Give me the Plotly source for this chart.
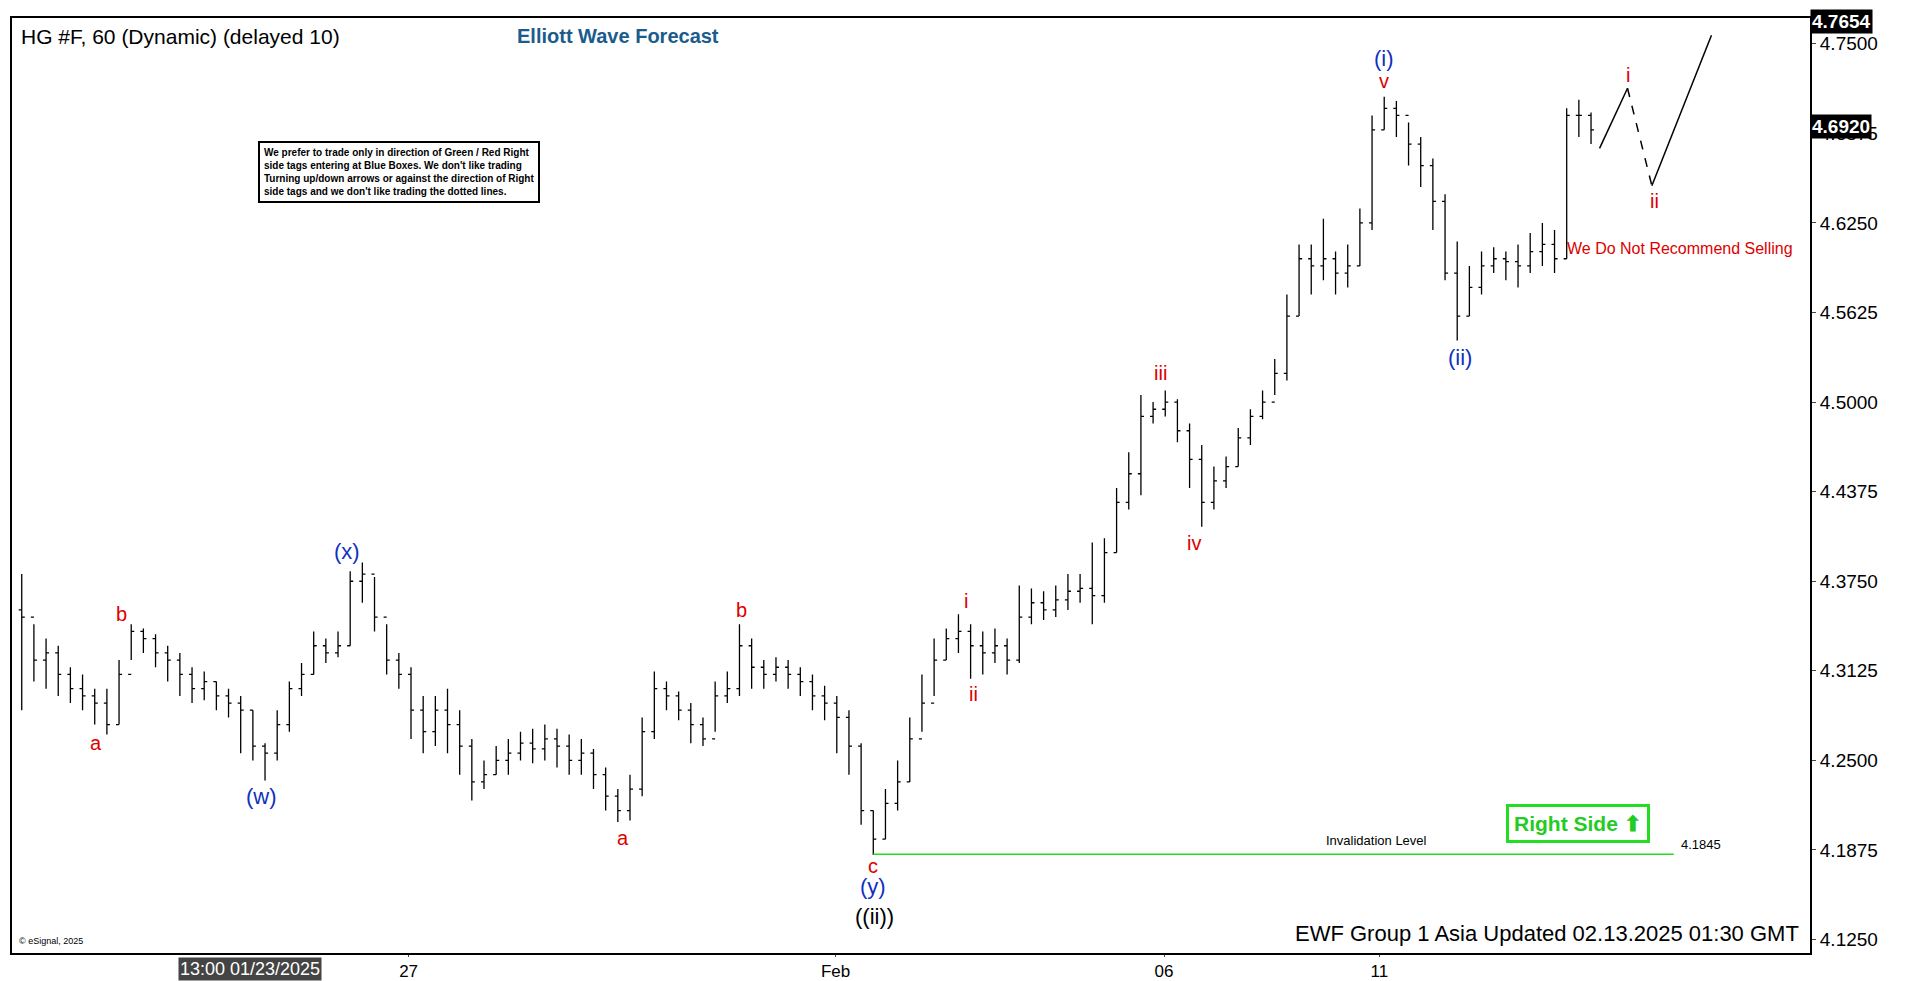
import plotly.graph_objects as go

close = [4.350,4.320,4.325,4.310,4.300,4.295,4.290,4.275,4.310,4.340,
 4.335,4.325,4.320,4.310,4.300,4.305,4.295,4.290,4.285,4.260,
 4.255,4.275,4.300,4.310,4.330,4.325,4.330,4.375,4.380,4.350,
 4.320,4.310,4.285,4.270,4.285,4.275,4.260,4.235,4.240,4.250,
 4.255,4.262,4.258,4.265,4.260,4.250,4.255,4.240,4.225,4.215,
 4.230,4.270,4.300,4.295,4.285,4.275,4.265,4.295,4.300,4.330,
 4.315,4.310,4.315,4.310,4.305,4.295,4.290,4.280,4.260,4.215,
 4.195,4.220,4.235,4.265,4.290,4.320,4.335,4.340,4.330,4.325,
 4.330,4.320,4.350,4.360,4.355,4.362,4.368,4.370,4.365,4.395,
 4.430,4.450,4.490,4.495,4.500,4.480,4.460,4.430,4.445,4.455,
 4.475,4.490,4.500,4.520,4.560,4.600,4.595,4.600,4.590,4.595,
 4.625,4.690,4.705,4.700,4.680,4.665,4.640,4.590,4.560,4.580,
 4.595,4.600,4.598,4.595,4.605,4.610,4.600,4.700,4.700,4.690]
high = [4.380,4.345,4.335,4.330,4.315,4.310,4.300,4.300,4.320,4.345,
 4.342,4.338,4.330,4.325,4.315,4.312,4.305,4.300,4.295,4.285,
 4.262,4.285,4.305,4.318,4.340,4.335,4.340,4.382,4.388,4.378,
 4.345,4.325,4.315,4.295,4.295,4.300,4.285,4.265,4.250,4.260,
 4.265,4.270,4.272,4.275,4.272,4.268,4.265,4.258,4.245,4.230,
 4.240,4.280,4.312,4.305,4.298,4.290,4.280,4.305,4.312,4.345,
 4.335,4.320,4.322,4.320,4.315,4.310,4.302,4.295,4.285,4.262,
 4.215,4.230,4.250,4.280,4.310,4.335,4.342,4.352,4.345,4.340,
 4.342,4.335,4.372,4.370,4.368,4.372,4.380,4.380,4.402,4.405,
 4.440,4.465,4.505,4.500,4.508,4.502,4.485,4.470,4.455,4.462,
 4.482,4.495,4.508,4.530,4.575,4.610,4.610,4.628,4.605,4.610,
 4.635,4.700,4.713,4.710,4.695,4.685,4.670,4.645,4.612,4.595,
 4.605,4.608,4.605,4.610,4.618,4.625,4.620,4.705,4.711,4.702]
low = [4.285,4.305,4.300,4.295,4.290,4.285,4.275,4.268,4.275,4.320,
 4.325,4.315,4.305,4.295,4.290,4.292,4.285,4.280,4.255,4.250,
 4.236,4.250,4.270,4.295,4.310,4.318,4.322,4.330,4.360,4.340,
 4.310,4.300,4.265,4.255,4.260,4.255,4.240,4.222,4.230,4.240,
 4.240,4.250,4.248,4.250,4.245,4.240,4.240,4.230,4.215,4.207,
 4.208,4.225,4.265,4.285,4.278,4.262,4.260,4.270,4.290,4.295,
 4.300,4.300,4.305,4.300,4.295,4.285,4.278,4.255,4.240,4.205,
 4.184,4.195,4.215,4.235,4.270,4.295,4.320,4.325,4.307,4.310,
 4.318,4.310,4.318,4.345,4.348,4.350,4.355,4.360,4.345,4.360,
 4.395,4.425,4.435,4.485,4.490,4.472,4.440,4.413,4.425,4.440,
 4.455,4.470,4.488,4.505,4.515,4.560,4.575,4.585,4.575,4.580,
 4.595,4.620,4.690,4.685,4.665,4.650,4.620,4.585,4.543,4.560,
 4.575,4.590,4.585,4.580,4.590,4.595,4.590,4.600,4.685,4.680]
openp = [4.355] + close[:-1]
idx = list(range(len(close)))

tick_pos = [31.8, 66.9, 93.9, 111.6]
tick_text = ["27", "Feb", "06", "11"]
y_ticks = [4.125, 4.1875, 4.25, 4.3125, 4.375, 4.4375, 4.5, 4.5625, 4.625, 4.6875, 4.75]

proj_x = [129.7, 132.0, 134.0, 138.9]
proj_y = [4.677, 4.719, 4.651, 4.756]
invalid = 4.1845

labels = [  # x, y, text, color, size
 (6.1, 4.262, "a", "#dd0000", 20), (8.2, 4.352, "b", "#dd0000", 20),
 (19.7, 4.225, "(w)", "#1030c0", 22), (26.7, 4.396, "(x)", "#1030c0", 22),
 (49.4, 4.196, "a", "#dd0000", 20), (59.2, 4.355, "b", "#dd0000", 20),
 (70.0, 4.176, "c", "#dd0000", 20), (70.0, 4.162, "(y)", "#1030c0", 22),
 (70.1, 4.141, "((ii))", "black", 22),
 (77.6, 4.361, "i", "#dd0000", 20), (78.2, 4.296, "ii", "#dd0000", 20),
 (93.6, 4.520, "iii", "#dd0000", 20), (96.4, 4.402, "iv", "#dd0000", 20),
 (112.0, 4.740, "(i)", "#1030c0", 22), (112.0, 4.724, "v", "#dd0000", 20),
 (118.2, 4.531, "(ii)", "#1030c0", 22),
 (132.0, 4.728, "i", "#dd0000", 20), (134.2, 4.640, "ii", "#dd0000", 20),
]

fig = go.Figure()
fig.add_trace(go.Ohlc(x=idx, open=openp, high=high, low=low, close=close,
    increasing=dict(line=dict(color="black", width=1.3)),
    decreasing=dict(line=dict(color="black", width=1.3)),
    tickwidth=0.25, hoverinfo="skip"))
fig.add_trace(go.Scatter(x=proj_x[:2], y=proj_y[:2], mode="lines", line=dict(color="black", width=1.5)))
fig.add_trace(go.Scatter(x=proj_x[1:3], y=proj_y[1:3], mode="lines", line=dict(color="black", width=1.5, dash="dash")))
fig.add_trace(go.Scatter(x=proj_x[2:], y=proj_y[2:], mode="lines", line=dict(color="black", width=1.5)))
fig.add_trace(go.Scatter(x=[70, 135.8], y=[invalid, invalid], mode="lines", line=dict(color="#22dd22", width=1.5)))

ann = []
for x, y, t, c, s in labels:
    ann.append(dict(x=x, y=y, text=t, xref="x", yref="y", showarrow=False, font=dict(color=c, size=s, family="Arial")))
ann += [
 dict(x=136.3, y=4.607, text="We Do Not Recommend Selling", showarrow=False, font=dict(color="#dd0000", size=16, family="Arial")),
 dict(x=111.4, y=4.194, text="Invalidation Level", showarrow=False, font=dict(color="black", size=13, family="Arial")),
 dict(x=138.0, y=4.1915, text="4.1845", showarrow=False, font=dict(color="black", size=13, family="Arial")),
 dict(x=127.9, y=4.206, text="<b>Right Side ⬆</b>", showarrow=False, bordercolor="#22dd22", borderwidth=3,
      borderpad=5, bgcolor="white", font=dict(color="#22cc22", size=21, family="Arial")),
 dict(xref="paper", yref="paper", x=0.004, y=0.995, xanchor="left", yanchor="top", text="HG #F, 60 (Dynamic) (delayed 10)",
      showarrow=False, font=dict(size=21, color="black", family="Arial")),
 dict(xref="paper", yref="paper", x=0.28, y=0.995, xanchor="left", yanchor="top", text="<b>Elliott Wave Forecast</b>",
      showarrow=False, font=dict(size=20, color="#1a5c8c", family="Arial")),
 dict(xref="paper", yref="paper", x=0.137, y=0.868, xanchor="left", yanchor="top",
      text="<b>We prefer to trade only in direction of Green / Red Right<br>side tags entering at Blue Boxes. We don't like trading<br>Turning up/down arrows or against the direction of Right<br>side tags and we don't like trading the dotted lines.</b>",
      align="left", showarrow=False, bordercolor="black", borderwidth=2, borderpad=4, bgcolor="white",
      font=dict(size=10, color="black", family="Arial")),
 dict(xref="paper", yref="paper", x=0.995, y=0.005, xanchor="right", yanchor="bottom",
      text="EWF Group 1 Asia Updated 02.13.2025 01:30 GMT", showarrow=False, font=dict(size=22, color="black", family="Arial")),
 dict(xref="paper", yref="paper", x=0.003, y=0.005, xanchor="left", yanchor="bottom", text="© eSignal, 2025",
      showarrow=False, font=dict(size=9, color="black", family="Arial")),
 dict(xref="paper", yref="y", x=1.0, y=4.7654, xanchor="left", text="<b>4.7654</b>", showarrow=False,
      bgcolor="black", font=dict(size=19, color="white", family="Arial")),
 dict(xref="paper", yref="y", x=1.0, y=4.692, xanchor="left", text="<b>4.6920</b>", showarrow=False,
      bgcolor="black", font=dict(size=19, color="white", family="Arial")),
 dict(xref="x", yref="paper", x=18.8, y=-0.004, yanchor="top", text="13:00 01/23/2025", showarrow=False,
      bgcolor="#444444", font=dict(size=18, color="white", family="Arial")),
]

fig.update_layout(width=1912, height=981, paper_bgcolor="white", plot_bgcolor="white",
    margin=dict(l=2, r=110, t=10, b=36), showlegend=False, annotations=ann,
    xaxis=dict(range=[-0.8, 147], tickvals=tick_pos, ticktext=tick_text, showgrid=False, zeroline=False,
               rangeslider=dict(visible=False), showline=True, linecolor="black", linewidth=2, mirror=True,
               ticks="outside", ticklen=2, tickfont=dict(size=17, color="black", family="Arial")),
    yaxis=dict(range=[4.1156, 4.768], side="right", tickvals=y_ticks, tickformat=".4f", showgrid=False,
               zeroline=False, showline=True, linecolor="black", linewidth=2, mirror=True,
               ticks="outside", ticklen=4, tickfont=dict(size=19, color="black", family="Arial")))
fig.write_html("out.html")
